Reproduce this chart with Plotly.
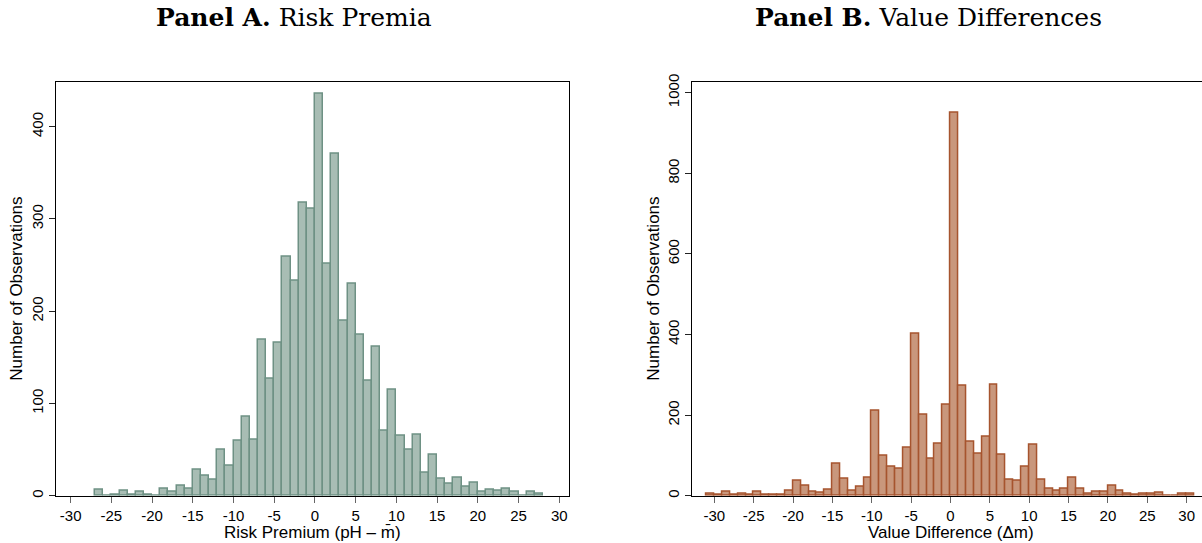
import plotly.graph_objects as go

# Panel A: risk premium histogram (bins of width 1, left edges)
premium_bin_start = list(range(-27, 28))
premium_counts = [
    7, 0, 1, 5, 1, 4, 1, 0, 8, 4,
    11, 8, 28, 22, 17, 50, 33, 60, 86, 61,
    169, 127, 166, 259, 233, 318, 311, 436, 251, 371,
    190, 230, 175, 125, 161, 70, 115, 65, 50, 66,
    25, 44, 18, 13, 20, 10, 14, 4, 7, 5,
    8, 4, 0, 4, 2,
]

# Panel B: value difference histogram (bins of width 1, left edges)
value_bin_start = list(range(-31, 31))
value_counts = [
    6, 3, 10, 2, 6, 2, 9, 3, 2, 2,
    12, 37, 24, 10, 8, 14, 79, 42, 13, 22,
    44, 210, 99, 72, 67, 119, 401, 201, 91, 129,
    225, 950, 273, 134, 105, 146, 275, 102, 40, 38,
    72, 126, 40, 17, 13, 17, 45, 18, 6, 9,
    9, 25, 12, 5, 2, 5, 5, 7, 1, 1,
    5, 5,
]

x_tick_vals = [-30, -25, -20, -15, -10, -5, 0, 5, 10, 15, 20, 25, 30]
x_tick_text = [str(v) for v in x_tick_vals]
a_y_ticks = [0, 100, 200, 300, 400]
b_y_ticks = [0, 200, 400, 600, 800, 1000]

SANS = "Liberation Sans, Arial, Helvetica, sans-serif"
SERIF = "DejaVu Serif, serif"

fig = go.Figure()

fig.add_trace(go.Bar(
    x=[s + 0.5 for s in premium_bin_start], y=premium_counts, width=1,
    marker=dict(color="rgb(168,189,180)", line=dict(color="rgb(110,145,132)", width=1.5)),
    xaxis="x", yaxis="y", showlegend=False,
))
fig.add_trace(go.Bar(
    x=[s + 0.5 for s in value_bin_start], y=value_counts, width=1,
    marker=dict(color="rgb(201,151,124)", line=dict(color="rgb(166,84,46)", width=1.5)),
    xaxis="x2", yaxis="y2", showlegend=False,
))

W, H = 1202, 543
top_px, bot_px = 81.7, 495.7
a_left, a_right = 56, 568.7
b_left, b_right = 692.3, 1202
ydom = [1 - bot_px / H, 1 - top_px / H]

axis_common = dict(
    showline=True, linecolor="black", linewidth=1.3,
    showgrid=False, zeroline=False,
    ticks="outside", ticklen=6, tickwidth=1,
    tickfont=dict(family=SANS, size=15, color="black"),
)

fig.update_layout(
    width=W, height=H,
    margin=dict(l=0, r=0, t=0, b=0, autoexpand=False),
    paper_bgcolor="white", plot_bgcolor="white",
    bargap=0,
    xaxis=dict(axis_common, domain=[a_left / W, a_right / W], range=[-31.8, 31.16],
               tickvals=x_tick_vals, ticktext=x_tick_text, tickcolor="#666",
               mirror=True, anchor="y"),
    yaxis=dict(axis_common, domain=ydom, range=[0, 448.8], tickvals=a_y_ticks,
               tickangle=-90, tickcolor="#222", mirror=True, anchor="x"),
    xaxis2=dict(axis_common, domain=[b_left / W, b_right / W], range=[-32.8, 31.95],
                tickvals=x_tick_vals, ticktext=x_tick_text, tickcolor="#666",
                mirror=True, anchor="y2"),
    yaxis2=dict(axis_common, domain=ydom, range=[0, 1027.3], tickvals=b_y_ticks,
                tickangle=-90, tickcolor="#222", mirror=False, anchor="x2"),
)

mid_y = 1 - (top_px + bot_px) / 2 / H
annotations = [
    dict(text="<b>Panel A.</b> Risk Premia", x=294 / W, y=1 - 17 / H,
         font=dict(family=SERIF, size=25, color="black")),
    dict(text="<b>Panel B.</b> Value Differences", x=928 / W, y=1 - 17 / H,
         font=dict(family=SERIF, size=25, color="black")),
    dict(text="Risk Premium (pH \u2013 m\u0304)", x=(a_left + a_right) / 2 / W, y=1 - 532 / H,
         font=dict(family=SANS, size=17, color="black")),
    dict(text="Value Difference (\u0394m)", x=(b_left + 1210) / 2 / W, y=1 - 532 / H,
         font=dict(family=SANS, size=17, color="black")),
    dict(text="Number of Observations", x=17 / W, y=mid_y, textangle=-90,
         font=dict(family=SANS, size=17, color="black")),
    dict(text="Number of Observations", x=654 / W, y=mid_y, textangle=-90,
         font=dict(family=SANS, size=17, color="black")),
]
for a in annotations:
    a.update(xref="paper", yref="paper", showarrow=False, xanchor="center", yanchor="middle")
fig.update_layout(annotations=annotations)

fig.write_html("out.html")
